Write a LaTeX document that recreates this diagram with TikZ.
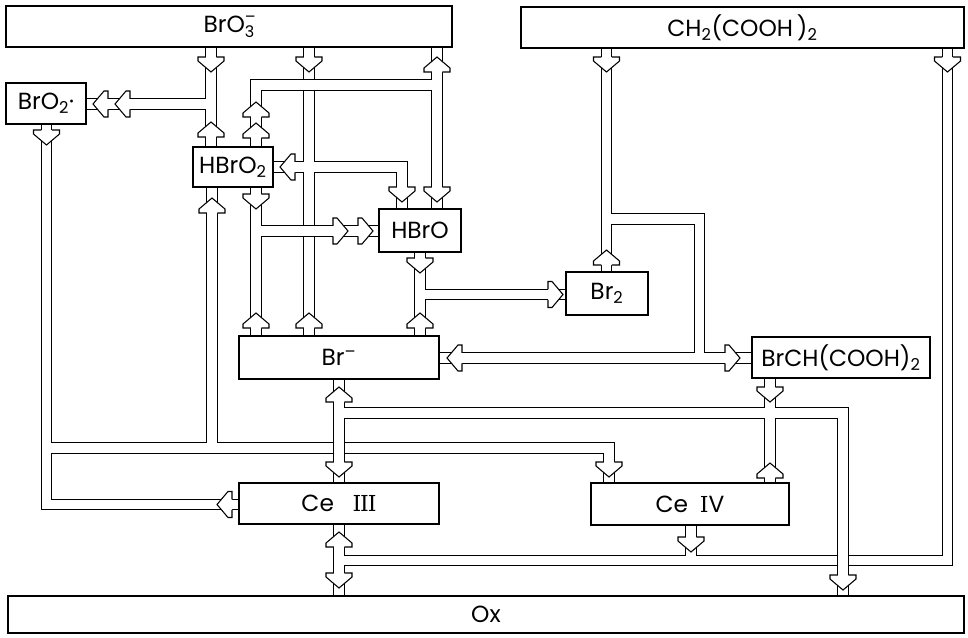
\documentclass[tikz,border=0pt]{standalone}
\usepackage{fontspec}
\setmainfont{Poppins}
\newfontfamily\romnum{DejaVu Serif}
\newcommand{\subsup}[2]{\rlap{\raisebox{0.8ex}{\fontsize{12}{12}\selectfont #2}}\raisebox{-0.4ex}{\fontsize{12}{12}\selectfont #1}}
\newcommand{\ah}[3]{\begin{scope}[shift={(#1,#2)},rotate=#3]
\fill[white] (0,0) -- (-13,-11) -- (-13,-15) -- (13,-15) -- (13,-11) -- cycle;
\draw[ahline] (-5.25,-15) -- (-13,-15) -- (-13,-11) -- (0,0) -- (13,-11) -- (13,-15) -- (5.25,-15);
\end{scope}}
\newcommand{\bnode}[6]{\node[box, minimum width={(#4-#2)*0.75pt}, minimum height={(#5-#3)*0.75pt}] (#1) at ({(#2+#4)/2},{(#3+#5)/2}) {#6};}
\tikzset{
 box/.style={draw, line width=1.3pt, fill=white, inner sep=0pt, font=\fontsize{17.5}{20}\selectfont},
 chan/.style={draw=black, double=white, double distance=7.1pt, line width=0.8pt, line join=miter, line cap=butt},
 ahline/.style={line width=0.8pt, line join=miter},
}
\begin{document}
\begin{tikzpicture}[x=0.75pt,y=-0.75pt]
\useasboundingbox (0,0) rectangle (968,637);
% invisible boxes first, so that anchors exist
\begin{scope}[opacity=0]
\bnode{bro3}{6}{6}{452}{47}{}
\bnode{ch2}{521}{7}{964}{48}{}
\bnode{bro2}{6}{83}{86}{124}{}
\bnode{hbro2}{193}{147}{273}{187}{}
\bnode{hbro}{379}{209}{461}{252}{}
\bnode{br2}{566}{272}{648}{315}{}
\bnode{brm}{239}{336}{439}{379}{}
\bnode{brma}{752}{337}{930}{378}{}
\bnode{ce3}{239}{483}{439}{524}{}
\bnode{ce4}{591}{483}{789}{525}{}
\bnode{ox}{8}{596}{964}{633}{}
\end{scope}
% channels
% R3: BrO3- + HBrO2 -> 2 BrO2.
\draw[chan] (211,0 |- bro3.south) -- (211,0 |- hbro2.north) (211,104) -- (bro2.east |- 0,104);
% R1: BrO3- + Br- -> HBrO2 + HBrO
\draw[chan] (309,0 |- bro3.south) -- (309,0 |- brm.north) (hbro2.east |- 0,167) -- (402,167) -- (402,0 |- hbro.north);
% R7: 2 HBrO2 -> BrO3- + HBrO
\draw[chan] (437,0 |- bro3.south) -- (437,0 |- hbro.north) (437,85) -- (256,85) -- (256,0 |- hbro2.north);
% R2: HBrO2 + Br- -> 2 HBrO
\draw[chan] (256,0 |- hbro2.south) -- (256,0 |- brm.north) (256,231) -- (hbro.west |- 0,231);
% R8: HBrO + Br- -> Br2
\draw[chan] (420,0 |- hbro.south) -- (420,0 |- brm.north) (420,294.5) -- (br2.west |- 0,294.5);
% R9: Br2 + CH2(COOH)2 -> BrCH(COOH)2 + Br-
\draw[chan] (606.5,0 |- ch2.south) -- (606.5,0 |- br2.north) (606.5,219) -- (699.5,219) -- (699.5,358) (brm.east |- 0,358) -- (brma.west |- 0,358);
% R4: BrO2. + Ce III -> HBrO2 + Ce IV
\draw[chan] (46.5,0 |- bro2.south) -- (46.5,504.5) -- (ce3.west |- 0,504.5) (46.5,448) -- (609,448) -- (609,0 |- ce4.north) (212,448) -- (212,0 |- hbro2.south);
% R6: CH2(COOH)2 + Ce IV -> Ce III + Ox
\draw[chan] (947.5,0 |- ch2.south) -- (947.5,560.5) -- (339,560.5) (339,0 |- ce3.south) -- (339,0 |- ox.north) (691,0 |- ce4.south) -- (691,560.5);
% R5: Ce IV + BrMA -> Br- + Ce III + Ox
\draw[chan] (339,0 |- brm.south) -- (339,0 |- ce3.north) (339,413) -- (843,413) -- (843,0 |- ox.north) (770,0 |- brma.south) -- (770,0 |- ce4.north);
% boxes
\bnode{bro3}{6}{6}{452}{47}{BrO\subsup{3}{–}}
\bnode{ch2}{521}{7}{964}{48}{CH\textsubscript{2}(COOH\,)\textsubscript{2}}
\bnode{bro2}{6}{83}{86}{124}{BrO\textsubscript{2}·}
\bnode{hbro2}{193}{147}{273}{187}{HBrO\textsubscript{2}}
\bnode{hbro}{379}{209}{461}{252}{HBrO}
\bnode{br2}{566}{272}{648}{315}{Br\textsubscript{2}}
\bnode{brm}{239}{336}{439}{379}{Br\textsuperscript{–}}
\bnode{brma}{752}{337}{930}{378}{BrCH(COOH)\textsubscript{2}}
\bnode{ce3}{239}{483}{439}{524}{Ce\hspace{0.8em}{\romnum\fontsize{16.5}{20}\selectfont I\kern-0.05em I\kern-0.05em I}}
\bnode{ce4}{591}{483}{789}{525}{Ce\hspace{0.5em}{\romnum\fontsize{16.5}{20}\selectfont I}V}
\bnode{ox}{8}{596}{964}{633}{Ox}
% arrowheads
\ah{211}{72}{0} \ah{211}{122}{180} \ah{93}{104}{-90} \ah{115}{104}{-90}
\ah{437}{57}{180} \ah{437}{202}{0} \ah{256}{102}{180} \ah{256}{123}{180}
\ah{309}{72}{0} \ah{309}{313}{180} \ah{280}{167}{-90} \ah{402}{202}{0}
\ah{256}{209}{0} \ah{256}{313}{180} \ah{348}{231}{90} \ah{373}{231}{90}
\ah{46.5}{145}{0} \ah{217}{504.5}{-90} \ah{212}{198}{180} \ah{609}{477}{0}
\ah{339}{387}{180} \ah{339}{477}{0} \ah{770}{402}{0} \ah{770}{463}{180} \ah{843}{590}{0}
\ah{947.5}{72}{0} \ah{691}{552}{0} \ah{339}{532}{180} \ah{339}{588}{0}
\ah{420}{273}{0} \ah{420}{313}{180} \ah{563}{294.5}{90}
\ah{606.5}{72}{0} \ah{606.5}{250}{180} \ah{447}{358}{-90} \ah{740}{358}{90}
\end{tikzpicture}
\end{document}
